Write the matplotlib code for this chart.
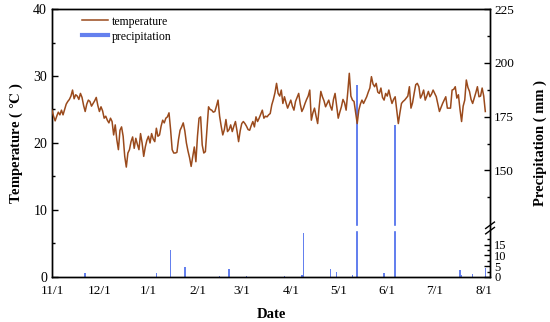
import matplotlib
matplotlib.use("Agg")
import matplotlib.pyplot as plt
from matplotlib.lines import Line2D
from matplotlib.ticker import FixedLocator
import numpy as np
import pandas as pd

plt.rcParams['font.family'] = ['Liberation Serif', 'DejaVu Serif']
plt.rcParams['mathtext.fontset'] = 'stix'

# daily mean temperature (°C), 2020-11-01 .. 2021-08-02
t_nov = [24.9, 24.0, 23.3, 24.0, 24.6, 24.2, 24.9, 24.2, 25.0, 25.8, 26.2, 26.5, 27.0, 27.9, 26.6,
         27.2, 27.0, 26.5, 27.4, 26.8, 25.6, 24.7, 25.8, 26.4, 26.2, 25.5, 25.9, 26.3, 26.8, 25.6]
t_dec = [24.7, 25.4, 24.8, 23.7, 24.0, 23.4, 23.0, 23.7, 23.2, 21.2, 22.7, 20.5, 19.0, 21.9, 22.4,
         21.0, 18.0, 16.4, 18.5, 19.0, 20.2, 20.9, 19.2, 20.7, 19.8, 19.0, 21.4, 20.0, 18.0, 19.4, 20.4]
t_jan = [21.0, 20.0, 21.4, 20.6, 20.2, 22.2, 21.0, 21.2, 22.5, 23.4, 23.0, 23.7, 23.9, 24.5, 22.0,
         19.0, 18.5, 18.5, 18.6, 20.5, 21.9, 22.4, 23.0, 21.8, 20.0, 18.8, 17.8, 16.5, 18.0, 19.4, 17.2]
t_feb = [21.0, 23.7, 23.9, 19.7, 18.5, 18.7, 22.0, 25.4, 25.0, 24.9, 24.6, 24.7, 25.5, 26.4,
         24.0, 22.5, 21.2, 22.0, 23.5, 21.7, 22.0, 22.7, 21.7, 22.5, 23.2, 21.8, 20.2, 21.8]
t_mar = [22.9, 23.2, 22.9, 22.5, 22.0, 21.9, 22.6, 23.2, 22.4, 23.9, 23.2, 23.7, 24.3, 24.9, 23.7,
         24.0, 23.9, 24.2, 24.4, 25.7, 26.5, 27.5, 28.9, 27.4, 27.0, 27.9, 25.9, 26.9, 26.0, 25.2, 25.8]
t_apr = [26.4, 25.5, 24.9, 26.2, 26.8, 27.4, 25.8, 24.7, 25.2, 25.9, 26.5, 27.0, 27.9, 23.4, 24.5,
         25.2, 24.0, 22.9, 25.5, 27.7, 26.9, 26.3, 25.4, 25.9, 26.4, 25.5, 24.9, 26.5, 27.4, 25.5]
t_may = [23.7, 24.6, 25.4, 26.5, 26.0, 24.9, 27.5, 30.4, 27.0, 26.4, 26.2, 24.5, 22.9, 24.9, 25.8,
         26.4, 25.9, 26.4, 26.9, 27.6, 28.2, 29.9, 28.8, 28.4, 28.9, 27.6, 27.4, 28.2, 26.8, 26.4, 27.4]
t_jun = [27.0, 27.9, 26.8, 25.9, 26.5, 26.9, 24.9, 22.9, 24.5, 25.9, 26.2, 26.4, 26.7, 27.0, 28.4,
         25.2, 26.0, 27.4, 28.7, 28.9, 28.4, 26.7, 27.2, 27.9, 26.4, 27.0, 27.7, 26.9, 27.3, 27.9]
t_jul = [27.4, 26.9, 25.8, 24.7, 25.3, 25.9, 26.4, 26.9, 25.2, 25.2, 25.2, 27.9, 28.0, 28.4, 26.7,
         27.2, 25.0, 23.2, 25.5, 26.4, 29.4, 28.3, 27.7, 26.5, 25.9, 26.7, 27.5, 28.4, 26.9, 27.0, 28.2]
t_aug = [27.0, 24.7]

# precipitation events (mm)
p_dates = ['2020-11-22', '2021-01-06', '2021-01-15', '2021-01-24', '2021-02-15', '2021-02-21',
           '2021-03-04', '2021-03-28', '2021-04-08', '2021-04-09', '2021-04-26', '2021-04-30',
           '2021-05-10', '2021-05-13', '2021-05-30', '2021-06-06', '2021-07-17', '2021-07-18',
           '2021-07-25', '2021-08-02']
p_vals = [1.7, 1.7, 12.7, 4.5, 0.4, 3.9, 0.5, 0.5, 0.8, 20.5, 3.8, 2.5,
          0.8, 189.5, 1.7, 171.0, 3.0, 1.0, 1.4, 4.1]

month_ticks = ['2020-11-01', '2020-12-01', '2021-01-01', '2021-02-01', '2021-03-01', '2021-04-01',
               '2021-05-01', '2021-06-01', '2021-07-01', '2021-08-01']
month_labels = ['11/1', '12/1', '1/1', '2/1', '3/1', '4/1', '5/1', '6/1', '7/1', '8/1']

temps = t_nov + t_dec + t_jan + t_feb + t_mar + t_apr + t_may + t_jun + t_jul + t_aug
days = pd.date_range('2020-11-01', periods=len(temps), freq='D')

# broken right axis: 0-22 below, 124-225 above, gap squeezed into a small band
LO, HI, GAP = 22.0, 124.0, 1.5


def fwd(v):
    v = np.asarray(v, dtype=float)
    mid = LO + (v - LO) / (HI - LO) * GAP
    return np.where(v <= LO, v, np.where(v >= HI, v - (HI - LO) + GAP, mid))


def inv(u):
    u = np.asarray(u, dtype=float)
    mid = LO + (u - LO) / GAP * (HI - LO)
    return np.where(u <= LO, u, np.where(u >= LO + GAP, u + (HI - LO) - GAP, mid))


fig = plt.figure(figsize=(5.5, 3.22), dpi=100)
ax = fig.add_axes([0.0945, 0.14, 0.7965, 0.832])
ax2 = ax.twinx()

tcol = '#9a4a1c'
pcol = '#6480ee'

ax2.bar(pd.to_datetime(p_dates), p_vals, width=1.0, color=pcol, zorder=1)
ax2.set_yscale('function', functions=(fwd, inv))
ax2.set_ylim(0, 225)
ax2.axhspan(LO, HI, color='white', zorder=2)
ax2.yaxis.set_major_locator(FixedLocator([0, 5, 10, 15, 150, 175, 200, 225]))
ax2.yaxis.set_minor_locator(FixedLocator([2.5, 7.5, 12.5, 17.5, 137.5, 162.5, 187.5, 212.5]))
ax2.tick_params(axis='y', which='major', direction='in', length=4, width=1, labelsize=9.5, pad=3)
ax2.tick_params(axis='y', which='minor', direction='in', length=2, width=1)
for lab, v in zip(ax2.get_yticklabels(), [0, 5, 10, 15, 150, 175, 200, 225]):
    if v < 20:
        lab.set_fontsize(9)
ax2.set_ylabel('Precipitation ( mm )', fontsize=10.5, fontweight='bold', labelpad=14)

# break marks on right spine
yb = fwd(LO + 0.5 * (HI - LO)) / fwd(225)
trans = ax2.transAxes
for dy in (-0.01, 0.01):
    ax2.plot([0.99, 1.01], [yb + dy - 0.012, yb + dy + 0.012], color='black', lw=1,
             transform=trans, clip_on=False, zorder=5)

ax.plot(days, temps, color=tcol, lw=1.1, zorder=3)
ax.set_zorder(ax2.get_zorder() + 1)
ax.patch.set_visible(False)

ax.set_ylim(0, 40)
ax.set_yticks([0, 10, 20, 30, 40])
ax.yaxis.set_minor_locator(FixedLocator([5, 15, 25, 35]))
ax.tick_params(axis='y', which='major', direction='in', length=4, width=1, labelsize=10)
ax.tick_params(axis='y', which='minor', direction='in', length=2, width=1)
ax.set_ylabel('Temperature ( $\\mathbf{°C}$ )', fontsize=10.5, fontweight='bold', labelpad=6)

ax.set_xlim(pd.Timestamp('2020-11-01'), pd.Timestamp('2021-08-05'))
ax.set_xticks(pd.to_datetime(month_ticks))
ax.set_xticklabels(month_labels)
ax.tick_params(axis='x', length=0, labelsize=9.5, pad=6)
ax.set_xlabel('Date', fontsize=10.5, fontweight='bold', labelpad=8)

for a in (ax, ax2):
    for s in a.spines.values():
        s.set_linewidth(1.0)

handles = [Line2D([0], [0], color=tcol, lw=1.1), Line2D([0], [0], color=pcol, lw=3)]
ax.legend(handles, ['temperature', 'precipitation'], loc='upper left',
          bbox_to_anchor=(0.045, 1.015), frameon=False, fontsize=8.5,
          handlelength=2.2, handletextpad=0.3, labelspacing=0.25)

fig.savefig('out.png', dpi=100)
